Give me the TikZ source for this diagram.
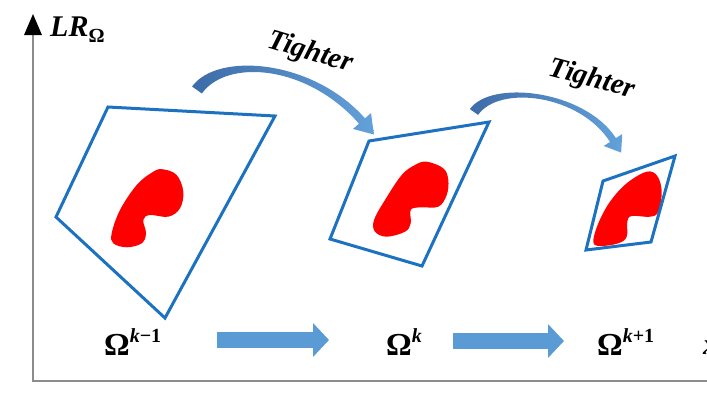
\documentclass[tikz,border=0pt]{standalone}
\usepackage{fontspec}
\setmainfont{Liberation Serif}
\usetikzlibrary{calc,arrows.meta}
\definecolor{quadblue}{HTML}{1C72C0}
\definecolor{blobred}{HTML}{FF0000}
\definecolor{arrdark}{HTML}{3D6CA8}
\definecolor{arrlight}{HTML}{63A1DA}
\definecolor{blockblue}{HTML}{5B9BD5}
\definecolor{axisgray}{HTML}{8C8C8C}
% #1 P0, #2 P1, #3 P2, #4 P3, #5 tail half width, #6 head-shaft half width, #7 barb half width, #8 head length
\newcommand{\bentarrow}[8]{%
  \path (#1) coordinate (ba0) (#2) coordinate (ba1) (#3) coordinate (ba2) (#4) coordinate (ba3);
  \coordinate (bt1) at ($(ba0)!#5!90:(ba1)$);
  \coordinate (bt2) at ($(ba0)!#5!-90:(ba1)$);
  \coordinate (bh1) at ($(ba3)!#6!-90:(ba2)$);
  \coordinate (bh2) at ($(ba3)!#6!90:(ba2)$);
  \coordinate (bb1) at ($(ba3)!#7!-90:(ba2)$);
  \coordinate (bb2) at ($(ba3)!#7!90:(ba2)$);
  \coordinate (btip) at ($(ba3)!-#8!(ba2)$);
  \shade[left color=arrdark,right color=arrlight]
    (bt1) .. controls ($(ba1)+(bt1)-(ba0)$) and ($(ba2)+(bh1)-(ba3)$) .. (bh1)
    -- (bb1) -- (btip) -- (bb2) -- (bh2)
    .. controls ($(ba2)+(bh2)-(ba3)$) and ($(ba1)+(bt2)-(ba0)$) .. (bt2) -- cycle;
}
\tikzset{
  quad/.style={draw=quadblue, line width=3pt, line join=miter},
  blob/.style={fill=blobred},
  axisline/.style={draw=axisgray, line width=1.6pt},
  blockarrow/.style={draw=blockblue, line width=16pt, -{Triangle[length=16pt,width=33pt]}},
  tighter/.style={font=\fontsize{29}{32}\selectfont\bfseries\itshape, inner sep=0pt},
  omlabel/.style={font=\fontsize{32}{34}\selectfont\bfseries, inner sep=0pt, anchor=base west},
}
\newcommand{\supr}[1]{\raisebox{13pt}{\fontsize{20}{22}\selectfont\bfseries #1}}
\begin{document}
\begin{tikzpicture}[x=1pt,y=-1pt]
\useasboundingbox (0,0) rectangle (707,397);
% axes
\coordinate (origin) at (33,381);
\coordinate (ytop) at (33,34);
\coordinate (xend) at (707,381);
\draw[axisline] (ytop) -- (origin) -- (xend);
\fill[black] (24,35) -- (33,14) -- (42,35) -- cycle;
\node[anchor=base west, inner sep=0pt, font=\fontsize{30}{32}\selectfont\bfseries\itshape] (lr) at (50,36)
  {LR\raisebox{-6pt}{\fontsize{20}{22}\selectfont\upshape Ω}};
% quad 1
\fill[blob] plot[smooth cycle, tension=0.6] coordinates {(111.7,233.3) (120,210) (136.7,185) (153.3,171.7) (163,169.3) (176.7,175) (183.3,191.7) (180,208.3) (168.3,216.7) (150,215) (143.3,220) (146,233.3) (141.7,243.3) (126.7,247.3) (113.3,243.3)};
\draw[quad] (108,107) -- (275,116) -- (165,318) -- (56,217) -- cycle;
% quad 2
\fill[blob] plot[smooth cycle, tension=0.6] coordinates {(426.7,161.7) (443.3,168.3) (448.3,180) (446.7,195) (438.3,206.7) (420,207.3) (410.7,210) (410.7,223.3) (405,231.7) (386.7,236.7) (375,231.7) (374,220) (385,200) (401.7,175) (415,165)};
\draw[quad] (369,141) -- (489,122) -- (422,266) -- (330,239) -- cycle;
% quad 3
\begin{scope}
\clip (603,181) -- (675,156) -- (651,242) -- (586,250) -- cycle;
\fill[blob] plot[smooth cycle, tension=0.6] coordinates {(593.3,241.7) (598.3,223.3) (610,201.7) (626.7,183.3) (646.7,171.7) (657.3,176) (661.7,191.7) (658.3,211.7) (650,216.7) (631.7,216) (627.3,221.7) (626.7,236.7) (618.3,243.3) (600,246)};
\end{scope}
\draw[quad] (603,181) -- (675,156) -- (651,242) -- (586,250) -- cycle;
% curved arrows
\bentarrow{197,90}{222,55}{310,62}{362,121}{6pt}{4pt}{12pt}{18pt}
\bentarrow{474,112}{495,82}{582,92}{613,140}{5pt}{3.5pt}{11pt}{15pt}
\node[tighter, rotate=-16.6] (t1) at (310,53) {Tighter};
\node[tighter, rotate=-14.8] (t2) at (592,80) {Tighter};
% omega labels
\node[omlabel] (om1) at (104,355) {Ω\supr{\itshape k\upshape −1}};
\node[omlabel] (om2) at (386,355) {Ω\supr{\itshape k}};
\node[omlabel] (om3) at (597,355) {Ω\supr{\itshape k\upshape +1}};
\node[omlabel, font=\fontsize{30}{32}\selectfont\bfseries\itshape] (xl) at (703,354) {x};
% block arrows
\coordinate (b1s) at (217,340);
\coordinate (b1e) at (329,340);
\coordinate (b2s) at (453,341);
\coordinate (b2e) at (564,341);
\draw[blockarrow] (b1s) -- (b1e);
\draw[blockarrow] (b2s) -- (b2e);
\end{tikzpicture}
\end{document}
